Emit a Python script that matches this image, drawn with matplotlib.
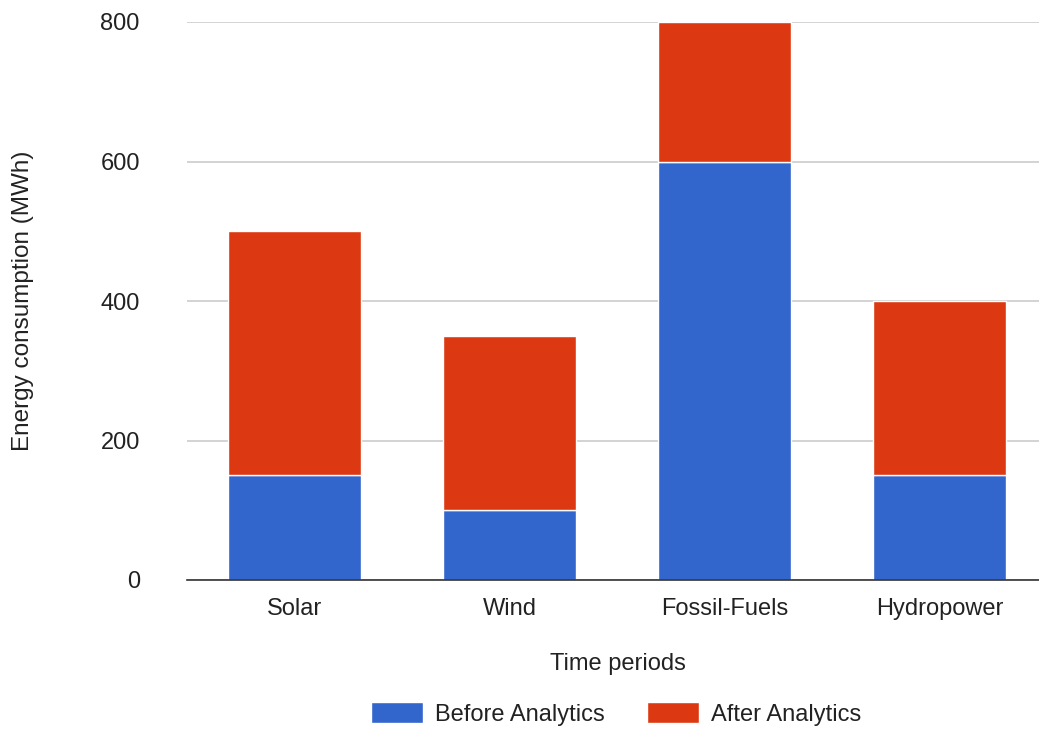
import numpy as np
import matplotlib
matplotlib.use("Agg")
import matplotlib.pyplot as plt

categories = ["Solar", "Wind", "Fossil-Fuels", "Hydropower"]
before = [150, 100, 600, 150]
after = [350, 250, 200, 250]
series_names = ["Before Analytics", "After Analytics"]
colors = ["#3366CC", "#DC3912"]

plt.rcParams['font.family'] = ['Liberation Sans', 'DejaVu Sans']

fig = plt.figure(figsize=(10.39, 7.29), dpi=100)
ax = fig.add_axes([187 / 1039, 149 / 729, 852 / 1039, 558 / 729])

x = np.arange(len(categories))
w = 0.62
ax.bar(x, before, width=w, color=colors[0], edgecolor="white", linewidth=1, label=series_names[0], zorder=3)
ax.bar(x, after, width=w, bottom=before, color=colors[1], edgecolor="white", linewidth=1, label=series_names[1], zorder=3)

ax.set_xlim(-0.5, 3.463)
ax.set_ylim(0, 800)
ax.set_yticks([0, 200, 400, 600, 800])
ax.set_xticks(x)
ax.set_xticklabels(categories)
ax.tick_params(axis="both", length=0, labelsize=17, colors="#222222")
ax.tick_params(axis="y", pad=34)
ax.tick_params(axis="x", pad=13)
ax.yaxis.grid(True, color="#cccccc", linewidth=1.2, zorder=0)
for s in ["top", "right", "left"]:
    ax.spines[s].set_visible(False)
ax.spines["bottom"].set_color("#333333")
ax.spines["bottom"].set_linewidth(1.2)
ax.spines["bottom"].set_zorder(4)

ax.set_ylabel("Energy consumption (MWh)", fontsize=17.5, color="#222222")
ax.yaxis.set_label_coords(-0.18, 0.5)
ax.set_xlabel("Time periods", fontsize=17, color="#222222")
ax.xaxis.set_label_coords(0.506, -0.13)

fig.legend(loc="center", bbox_to_anchor=(616 / 1039, 1 - 714 / 729), ncol=2, frameon=False,
           fontsize=17, handlelength=2.2, handleheight=0.95, columnspacing=1.8, handletextpad=0.5,
           labelcolor="#222222")

fig.savefig("out.png", dpi=100)
